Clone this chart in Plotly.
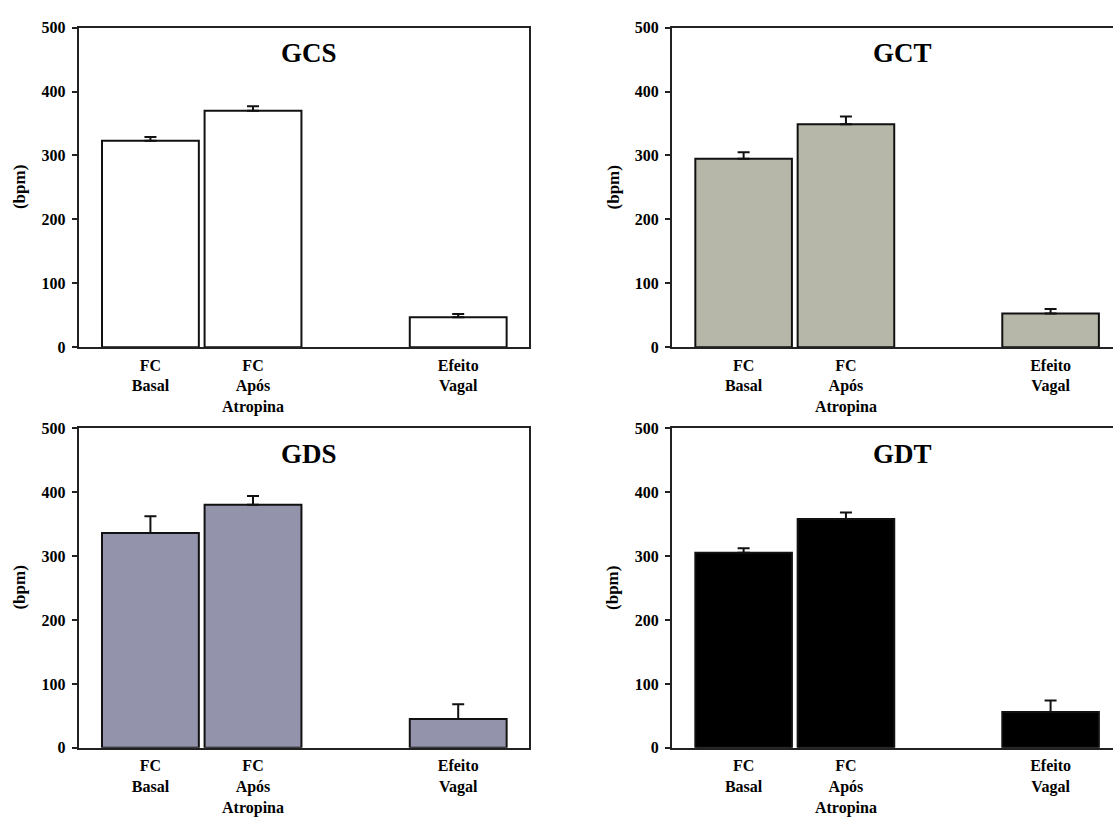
import plotly.graph_objects as go

# Categories and their slot positions on the x axis (gap before "Efeito Vagal")
categories = ["FC<br>Basal", "FC<br>Após<br>Atropina", "Efeito<br>Vagal"]
positions = [0, 1, 3]

# Heart rate (bpm): mean and upper error per group
gcs_mean = [323, 370, 47]
gcs_err = [6, 7, 5]
gct_mean = [295, 349, 53]
gct_err = [10, 12, 7]
gds_mean = [336, 380, 45]
gds_err = [26, 14, 23]
gdt_mean = [305, 358, 56]
gdt_err = [7, 10, 18]

group_names = ["GCS", "GCT", "GDS", "GDT"]
group_means = [gcs_mean, gct_mean, gds_mean, gdt_mean]
group_errs = [gcs_err, gct_err, gds_err, gdt_err]
group_colors = ["#FFFFFF", "#B6B6A9", "#9393AB", "#000000"]

y_ticks = [0, 100, 200, 300, 400, 500]

W, H = 1113, 821
FONT = "Liberation Serif, Times New Roman, Times, serif"

# Panel placement in pixels: (left, right, top, bottom), x range end
panels = [
    (78.6, 529, 20, 346.5, 3.69),
    (672, 1113, 20, 346.5, 3.61),
    (78.6, 529, 429, 755.5, 3.69),
    (672, 1113, 429, 755.5, 3.61),
]

fig = go.Figure()
layout = dict(
    width=W, height=H,
    margin=dict(l=0, r=0, t=0, b=0),
    paper_bgcolor="white", plot_bgcolor="white",
    showlegend=False,
    font=dict(family=FONT, color="black"),
    annotations=[],
)

for i, (name, means, errs, color, (l, r, t, b, xmax)) in enumerate(
        zip(group_names, group_means, group_errs, group_colors, panels)):
    n = "" if i == 0 else str(i + 1)
    fig.add_trace(go.Bar(
        x=positions, y=means, width=0.944,
        marker=dict(color=color, line=dict(color="#111111", width=2)),
        error_y=dict(type="data", symmetric=False, array=errs,
                     arrayminus=[0] * len(errs),
                     color="#111111", thickness=2, width=6),
        xaxis="x" + n, yaxis="y" + n,
    ))
    right_panel = i % 2 == 1
    layout["xaxis" + n] = dict(
        domain=[l / W, r / W], range=[-0.7, xmax], anchor="y" + n,
        tickvals=positions, ticktext=["<b>%s</b>" % c for c in categories],
        tickfont=dict(family=FONT, size=16, color="black"),
        ticks="", showgrid=False, zeroline=False,
        showline=True, linecolor="#222222", linewidth=2, mirror=True,
        ticklabelstandoff=2, fixedrange=True,
    )
    layout["yaxis" + n] = dict(
        domain=[1 - b / H, 1 - t / H], range=[0, 500], anchor="x" + n,
        tickvals=y_ticks, ticktext=["<b>%d</b>" % v for v in y_ticks],
        tickfont=dict(family=FONT, size=16, color="black"),
        ticks="outside", ticklen=5, tickwidth=2, tickcolor="#222222",
        showgrid=False, zeroline=False,
        showline=True, linecolor="#222222", linewidth=2,
        mirror=not right_panel, ticklabelstandoff=3, fixedrange=True,
    )
    # Panel title
    layout["annotations"].append(dict(
        text="<b>%s</b>" % name, x=1.55, y=460, xref="x" + n, yref="y" + n,
        showarrow=False, font=dict(family=FONT, size=27, color="black"),
        xanchor="center", yanchor="middle",
    ))
    # Y axis title
    layout["annotations"].append(dict(
        text="<b>(bpm)</b>", x=(l - 59) / W, y=1 - ((t + b) / 2) / H,
        xref="paper", yref="paper", textangle=-90, showarrow=False,
        font=dict(family=FONT, size=17, color="black"),
        xanchor="center", yanchor="middle",
    ))

fig.update_layout(**layout)
fig.write_html("out.html")
